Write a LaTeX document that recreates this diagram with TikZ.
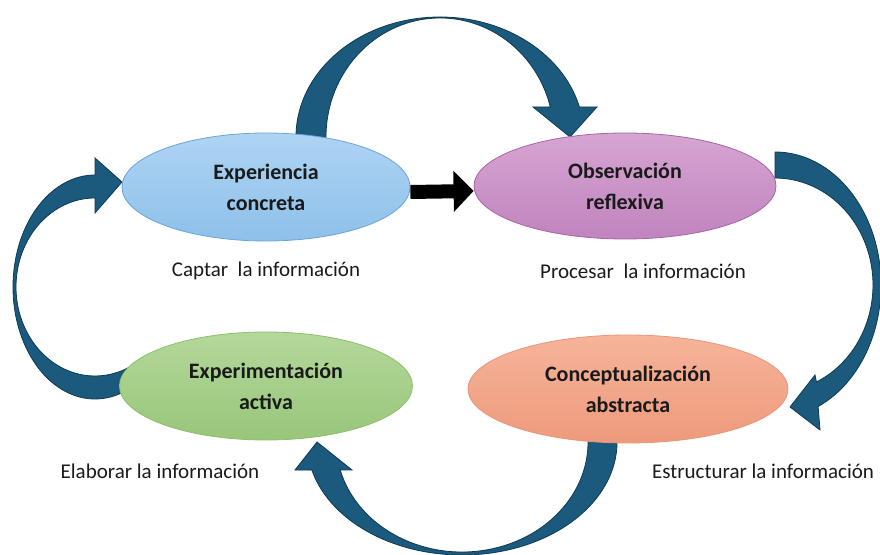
\documentclass[tikz,border=0pt]{standalone}
\usepackage{fontspec}
\setmainfont{Carlito}
\usetikzlibrary{arrows.meta,shapes.geometric}
\definecolor{arrowblue}{HTML}{1C5A7D}
\definecolor{arrowline}{HTML}{0E3A52}
\definecolor{txt}{HTML}{1A1A1A}
\definecolor{blueB}{HTML}{6AA5DA}
\definecolor{blueT}{HTML}{AED4F3}
\definecolor{blueD}{HTML}{8EC0EA}
\definecolor{purB}{HTML}{A864A4}
\definecolor{purT}{HTML}{D6A5D2}
\definecolor{purD}{HTML}{C084BE}
\definecolor{grnB}{HTML}{8DBE6C}
\definecolor{grnT}{HTML}{B4D89B}
\definecolor{grnD}{HTML}{98C67A}
\definecolor{orgB}{HTML}{E8957A}
\definecolor{orgT}{HTML}{F6B49A}
\definecolor{orgD}{HTML}{EE9A7C}
\tikzset{
  blockarrow/.style={fill=arrowblue,draw=arrowline,line width=0.8pt,line join=miter},
  stage/.style={ellipse,inner sep=0pt,line width=0.8pt,align=center,text=txt,
     font=\bfseries\fontsize{22}{31}\selectfont},
  caption/.style={inner sep=0pt,text=txt,font=\fontsize{21}{24}\selectfont},
}
\begin{document}
\begin{tikzpicture}[x=1pt,y=1pt]
\useasboundingbox (0,0) rectangle (880,554);
\clip (0,0) rectangle (880,554);
% curved block arrows
\filldraw[blockarrow] ({440+144*cos(185)},{417+120*sin(185)}) arc[start angle=185,end angle=14.48,x radius=144,y radius=120]
  -- (597,447) -- (570,417) -- (533,447) -- (550.3,447)
  arc[start angle=14.6,end angle=185,x radius=114,y radius=119] -- cycle;
\filldraw[blockarrow] (775,402) arc[start angle=90,end angle=-66,x radius=106,y radius=133]
  -- (820,124) -- (790,147) -- (815,179) -- (816.4,172.0)
  arc[start angle=-65,end angle=90,x radius=98,y radius=107] -- cycle;
\filldraw[blockarrow] ({462+155*cos(6)},{112+113*sin(6)}) arc[start angle=6,end angle=-165.65,x radius=155,y radius=113]
  -- (295,84) -- (317,112) -- (352,84) -- (340.2,84)
  arc[start angle=-165.25,end angle=6,x radius=126,y radius=110] -- cycle;
\filldraw[blockarrow] ({95+82*cos(-66)},{267+112*sin(-66)}) arc[start angle=-66,end angle=-270,x radius=82,y radius=112]
  -- (95,396) -- (122,372) -- (95,341) -- (95,356)
  arc[start angle=-270,end angle=-62,x radius=79,y radius=89] -- cycle;
% stages
\node[stage,minimum width=288pt,minimum height=108pt,draw=blueB,top color=blueT,bottom color=blueD]
  (exp) at (266,367) {Experiencia\\concreta};
\node[stage,minimum width=302pt,minimum height=106pt,draw=purB,top color=purT,bottom color=purD]
  (obs) at (625,368) {Observación\\reflexiva};
\node[stage,minimum width=293pt,minimum height=108pt,draw=grnB,top color=grnT,bottom color=grnD]
  (expm) at (266,168) {Experimentación\\activa};
\node[stage,minimum width=320pt,minimum height=108pt,draw=orgB,top color=orgT,bottom color=orgD]
  (conc) at (628,165) {Conceptualización\\abstracta};
% straight arrow
\draw[line width=14pt,black,-{Triangle[length=20pt,width=40pt]}] ([yshift=-5pt]exp.east) -- ([yshift=-5pt]obs.west);
% captions
\node[caption] (c1) at (266,283) {Captar~~la información};
\node[caption] (c2) at (643,283) {Procesar~~la información};
\node[caption] (c3) at (160,83) {Elaborar la información};
\node[caption] (c4) at (763,83) {Estructurar la información};
\end{tikzpicture}
\end{document}
